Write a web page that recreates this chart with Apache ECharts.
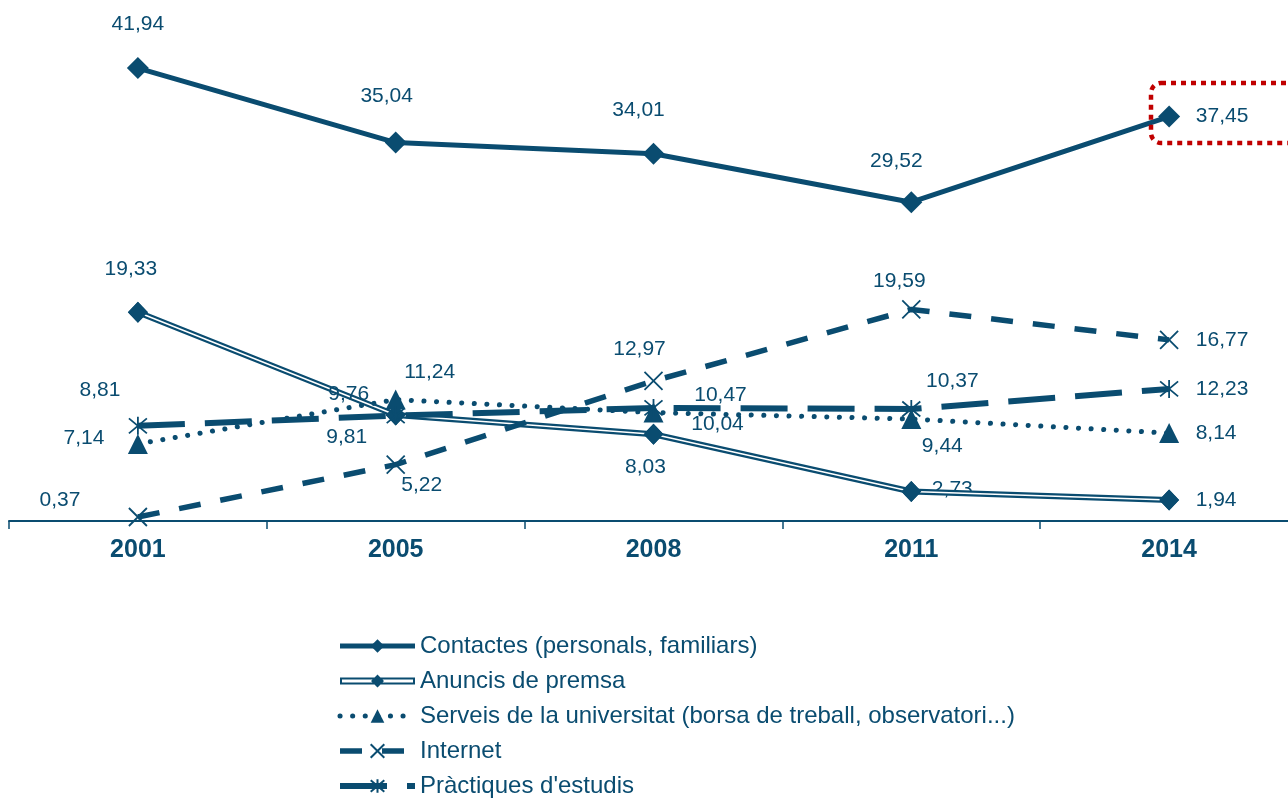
<!DOCTYPE html>
<html>
<head>
<meta charset="utf-8">
<script src="https://cdn.jsdelivr.net/npm/echarts@6/dist/echarts.min.js"></script>
<style>
  html, body { margin: 0; background: #fff; overflow: hidden; }
  #chart { width: 1298px; height: 840px; }
</style>
</head>
<body>
<div id="chart"></div>
<script>
const years = ['2001', '2005', '2008', '2011', '2014'];
const contactes = [41.94, 35.04, 34.01, 29.52, 37.45];
const anuncis = [19.33, 9.81, 8.03, 2.73, 1.94];
const serveis = [7.14, 11.24, 10.04, 9.44, 8.14];
const internet = [0.37, 5.22, 12.97, 19.59, 16.77];
const practiques = [8.81, 9.76, 10.47, 10.37, 12.23];
const seriesNames = [
  'Contactes (personals, familiars)',
  'Anuncis de premsa',
  'Serveis de la universitat (borsa de treball, observatori...)',
  'Internet',
  "Pràctiques d'estudis"
];

const blue = '#0a4c70';

// where each value label sits relative to its point (px)
const offContactes = [[0, -44], [-9, -46], [-15, -43], [-15, -41], [53, 0]];
const offAnuncis = [[-7, -43], [-49, 22], [-8, 33], [41, -2], [47, 0]];
const offServeis = [[-54, -6], [34, -27], [64, 12], [31, 27], [47, 0]];
const offInternet = [[-78, -17], [26, 21], [-14, -32], [-12, -28], [53, 0]];
const offPractiques = [[-38, -36], [-47, -21], [67, -13], [41, -28], [53, 0]];

function withLabels(values, offsets) {
  return values.map((v, i) => ({ value: v, label: { offset: offsets[i] } }));
}

const valueLabel = {
  show: true,
  position: 'inside',
  color: blue,
  fontSize: 21,
  formatter: p => p.value.toFixed(2).replace('.', ',')
};

const crossPath = 'path://M0,0L10,10M10,0L0,10';
const starPath = 'path://M0,0L10,10M10,0L0,10M5,-1L5,11';
// double line with a diamond, for the legend of "Anuncis de premsa" (75x17 box)
const doubleLineIcon = 'path://M0,0L0.3,0L0,0.3Z M75,17L74.7,17L75,16.7Z' +
  ' M0,5L75,5L75,12L0,12Z M2,7L2,10L73,10L73,7Z M37.5,2L44,8.5L37.5,15L31,8.5Z';

const legendData = seriesNames.map((n, i) => (i === 1 ? { name: n, icon: doubleLineIcon } : { name: n }));

// the canvas is a little wider than the window: the last category cell runs past the right edge
const chart = echarts.init(document.getElementById('chart'));
chart.setOption({
  animation: false,
  textStyle: { fontFamily: 'Liberation Sans, Arial, sans-serif' },
  grid: { left: 9, top: 35, width: 1289, height: 486 },
  xAxis: {
    type: 'category',
    data: years,
    boundaryGap: true,
    axisLine: { lineStyle: { color: blue, width: 2 } },
    axisTick: { show: true, length: 8, lineStyle: { color: blue, width: 1.5 } },
    axisLabel: { color: blue, fontSize: 25, fontWeight: 'bold', margin: 17 }
  },
  yAxis: { type: 'value', min: 0, max: 45, show: false },
  legend: {
    data: legendData,
    orient: 'vertical',
    left: 337,
    top: 634,
    padding: 0,
    itemWidth: 75,
    itemHeight: 17,
    itemGap: 11,
    lineStyle: { width: 'inherit' },
    textStyle: { color: blue, fontSize: 24, lineHeight: 22 }
  },
  graphic: [{
    type: 'rect',
    shape: { x: 1151, y: 83, width: 170, height: 60, r: 10 },
    style: { fill: 'none', stroke: '#c00000', lineWidth: 4.5, lineDash: [5, 5] },
    z: 10
  }],
  series: [
    {
      name: seriesNames[0],
      type: 'line',
      data: withLabels(contactes, offContactes),
      symbol: 'diamond',
      symbolSize: [22, 22],
      itemStyle: { color: blue },
      lineStyle: { color: blue, width: 5 },
      label: valueLabel,
      z: 5
    },
    {
      name: seriesNames[1],
      type: 'line',
      data: withLabels(anuncis, offAnuncis),
      symbol: 'diamond',
      symbolSize: [20, 21],
      itemStyle: { color: blue },
      lineStyle: { color: blue, width: 6 },
      label: valueLabel,
      z: 2
    },
    {
      name: 'anuncis-inner',
      type: 'line',
      data: anuncis,
      symbol: 'none',
      silent: true,
      lineStyle: { color: '#fff', width: 1.6 },
      z: 3
    },
    {
      name: 'anuncis-marks',
      type: 'line',
      data: anuncis,
      symbol: 'diamond',
      symbolSize: [20, 21],
      silent: true,
      itemStyle: { color: blue },
      lineStyle: { width: 0, opacity: 0 },
      z: 4
    },
    {
      name: seriesNames[2],
      type: 'line',
      data: withLabels(serveis, offServeis),
      symbol: 'triangle',
      symbolSize: [20, 20],
      itemStyle: { color: blue },
      lineStyle: { color: blue, width: 5, type: [0.1, 12.5], cap: 'round' },
      label: valueLabel,
      z: 4
    },
    {
      name: seriesNames[3],
      type: 'line',
      data: withLabels(internet, offInternet),
      symbol: crossPath,
      symbolSize: 18,
      itemStyle: { color: blue, borderColor: blue, borderWidth: 1.8 },
      lineStyle: { color: blue, width: 5.5, type: [22, 20] },
      label: valueLabel,
      z: 4
    },
    {
      name: seriesNames[4],
      type: 'line',
      data: withLabels(practiques, offPractiques),
      symbol: starPath,
      symbolSize: 18,
      itemStyle: { color: blue, borderColor: blue, borderWidth: 1.8 },
      lineStyle: { color: blue, width: 6, type: [47, 20] },
      label: valueLabel,
      z: 4
    }
  ]
});
</script>
</body>
</html>
